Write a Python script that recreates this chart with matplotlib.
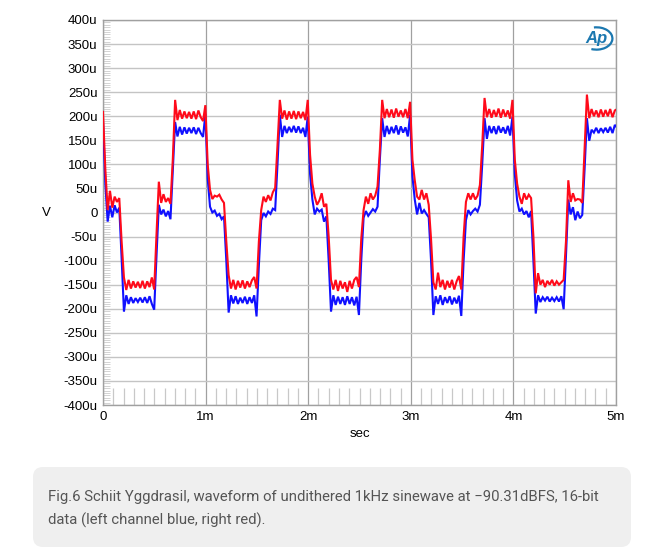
import numpy as np
import matplotlib
matplotlib.use("Agg")
import matplotlib.pyplot as plt
from matplotlib.patches import FancyBboxPatch, Arc
from matplotlib.transforms import IdentityTransform
from matplotlib.ticker import MultipleLocator, FixedLocator

plt.rcParams["font.family"] = ["Liberation Sans", "DejaVu Sans"]

# ── data (microvolts, one sample every 1/44.1 ms) ─────────────
SAMPLE_RATE_KHZ = 44.1

blue_p1 = [189, 60, -19, 14, -10, 15, 0, 10, -95,
           -206, -172, -190, -176, -188, -178, -186, -177, -187, -176, -188, -174, -190, -202,
           -90, 16, -4, 6, -8, 3, -14, 85,
           188, 158, 178, 162, 177, 164, 176, 165, 177, 163, 176, 165, 157]
blue_p2 = [205, 70, 12, 0, 4, -7, -3, -14, -8, -100,
           -208, -172, -189, -174, -190, -177, -188, -175, -190, -176, -188, -172, -216,
           -110, -16, -1, -8, 2, -3, 8, 5, 100,
           203, 157, 180, 165, 178, 167, 180, 166, 179, 165, 176, 157]
blue_p3 = [199, 80, 27, -4, 8, 2, 6, -19, -8, -100,
           -206, -172, -192, -175, -190, -176, -192, -174, -190, -176, -193, -175, -213,
           -100, -11, 3, -7, 0, 7, 2, 12, 110,
           196, 157, 180, 163, 178, 165, 181, 162, 179, 166, 177, 158]
blue_p4 = [203, 75, 27, -4, 20, -2, 5, -3, -10, -100,
           -213, -174, -190, -172, -192, -176, -188, -174, -191, -177, -189, -173, -215,
           -100, -16, 5, -4, 3, 8, 2, 16, 100,
           196, 153, 180, 165, 179, 163, 180, 166, 177, 164, 180, 160]
blue_p5 = [199, 80, 25, 2, 8, -4, 3, -10, 3, -100,
           -210, -172, -186, -176, -183, -175, -185, -177, -184, -176, -185, -174, -201,
           -90, 27, -4, 11, -16, 2, -12, -5, 90,
           196, 149, 172, 166, 176, 165, 175, 167, 176, 166, 178, 165, 182, 176]

red_p1 = [209, 90, 5, 45, 10, 33, 22, 30, -60,
          -135, -161, -140, -158, -143, -156, -144, -157, -142, -158, -143, -155, -135, -160,
          -45, 64, 20, 38, 22, 30, 18, 110,
          234, 192, 213, 195, 210, 196, 209, 195, 210, 194, 212, 198, 190]
red_p2 = [223, 100, 47, 28, 35, 33, 37, 27, 20, -60,
          -130, -158, -140, -160, -142, -156, -141, -158, -143, -155, -141, -134, -158,
          -60, 5, 33, 22, 36, 25, 42, 51, 140,
          234, 195, 212, 193, 210, 195, 211, 194, 210, 196, 209, 192]
red_p3 = [234, 120, 60, 33, 16, 25, 40, 12, 18, -50,
          -140, -160, -140, -163, -142, -158, -145, -165, -142, -158, -140, -134, -155,
          -55, 5, 33, 18, 40, 27, 35, 54, 130,
          234, 196, 215, 198, 214, 197, 216, 199, 212, 198, 215, 196]
red_p4 = [230, 110, 67, 33, 27, 47, 27, 40, 16, -55,
          -145, -160, -125, -155, -140, -160, -142, -156, -140, -160, -143, -132, -160,
          -50, 22, 40, 27, 40, 27, 35, 57, 140,
          238, 198, 215, 197, 213, 199, 216, 197, 214, 199, 212, 195]
red_p5 = [234, 110, 60, 33, 18, 40, 27, 37, 30, -50,
          -168, -126, -150, -140, -155, -142, -150, -140, -152, -143, -150, -145, -140,
          -60, 67, 22, 40, 25, 28, 27, 20, 130,
          245, 196, 215, 200, 212, 198, 214, 199, 213, 200, 215, 198, 212, 215]

y_ticks = list(range(-400, 401, 50))
x_ticks = [0, 1, 2, 3, 4, 5]
x_labels = ["0", "1m", "2m", "3m", "4m", "5m"]
caption = ("Fig.6 Schiit Yggdrasil, waveform of undithered 1kHz sinewave at \u221290.31dBFS, 16-bit\n"
           "data (left channel blue, right red).")

blue = np.array(blue_p1 + blue_p2 + blue_p3 + blue_p4 + blue_p5, dtype=float)
red = np.array(red_p1 + red_p2 + red_p3 + red_p4 + red_p5, dtype=float)
t_ms = np.arange(len(blue)) / SAMPLE_RATE_KHZ

# ── figure ────────────────────────────────────────────────────
W, H = 664, 559
fig = plt.figure(figsize=(W / 100, H / 100), dpi=100)
ax = fig.add_axes([103 / W, 1 - 405 / H, 513 / W, 385 / H])

ax.plot(t_ms, blue, color="#1010ff", lw=1.5, solid_joinstyle="miter", zorder=3)
ax.plot(t_ms, red, color="#ff0a1a", lw=1.5, solid_joinstyle="miter", zorder=4)

ax.set_xlim(0, 5)
ax.set_ylim(-400, 400)

ax.yaxis.set_major_locator(FixedLocator(y_ticks))
ax.set_yticklabels(["0" if v == 0 else f"{v}u" for v in y_ticks])
ax.xaxis.set_major_locator(FixedLocator(x_ticks))
ax.set_xticklabels(x_labels)
ax.xaxis.set_minor_locator(MultipleLocator(0.1))
ax.yaxis.set_minor_locator(MultipleLocator(5))

ax.tick_params(axis="both", which="major", length=0, pad=4, labelsize=9.5, labelcolor="black")
ax.tick_params(axis="x", which="minor", direction="in", length=12, width=0.9, color="#c8c8c8")
ax.tick_params(axis="y", which="minor", direction="in", length=5, width=0.6, color="#cccccc")

ax.grid(True, axis="y", which="major", color="#c4c4c4", lw=1.0)
ax.grid(True, axis="x", which="major", color="#a0a0a0", lw=0.9)
ax.set_axisbelow(True)
for s in ax.spines.values():
    s.set_color("#a0a0a0")
    s.set_linewidth(1.0)

ax.set_xlabel("sec", fontsize=9.5, labelpad=4)
ax.set_ylabel("V", fontsize=9.5, rotation=0, labelpad=12, va="center")

# AP logo
ax.text(0.962, 0.952, "Ap", transform=ax.transAxes, ha="center", va="center",
        fontsize=12, fontstyle="italic", fontweight="bold", color="#1c78b0", zorder=5)
ax.add_patch(Arc((0.962, 0.952), 0.062, 0.058, theta1=-110, theta2=100,
                 transform=ax.transAxes, color="#1c78b0", lw=1.6, zorder=5))

# caption box
box = FancyBboxPatch((33, H - 547), 598, 80, boxstyle="round,pad=0,rounding_size=10",
                     transform=IdentityTransform(), facecolor="#efefef", edgecolor="none")
fig.add_artist(box)
fig.text(48 / W, 1 - 509 / H, caption, fontsize=10.7, family="Roboto", color="#555555",
         linespacing=1.65, ha="left", va="center")

fig.savefig("out.png", dpi=100)
plt.close(fig)
